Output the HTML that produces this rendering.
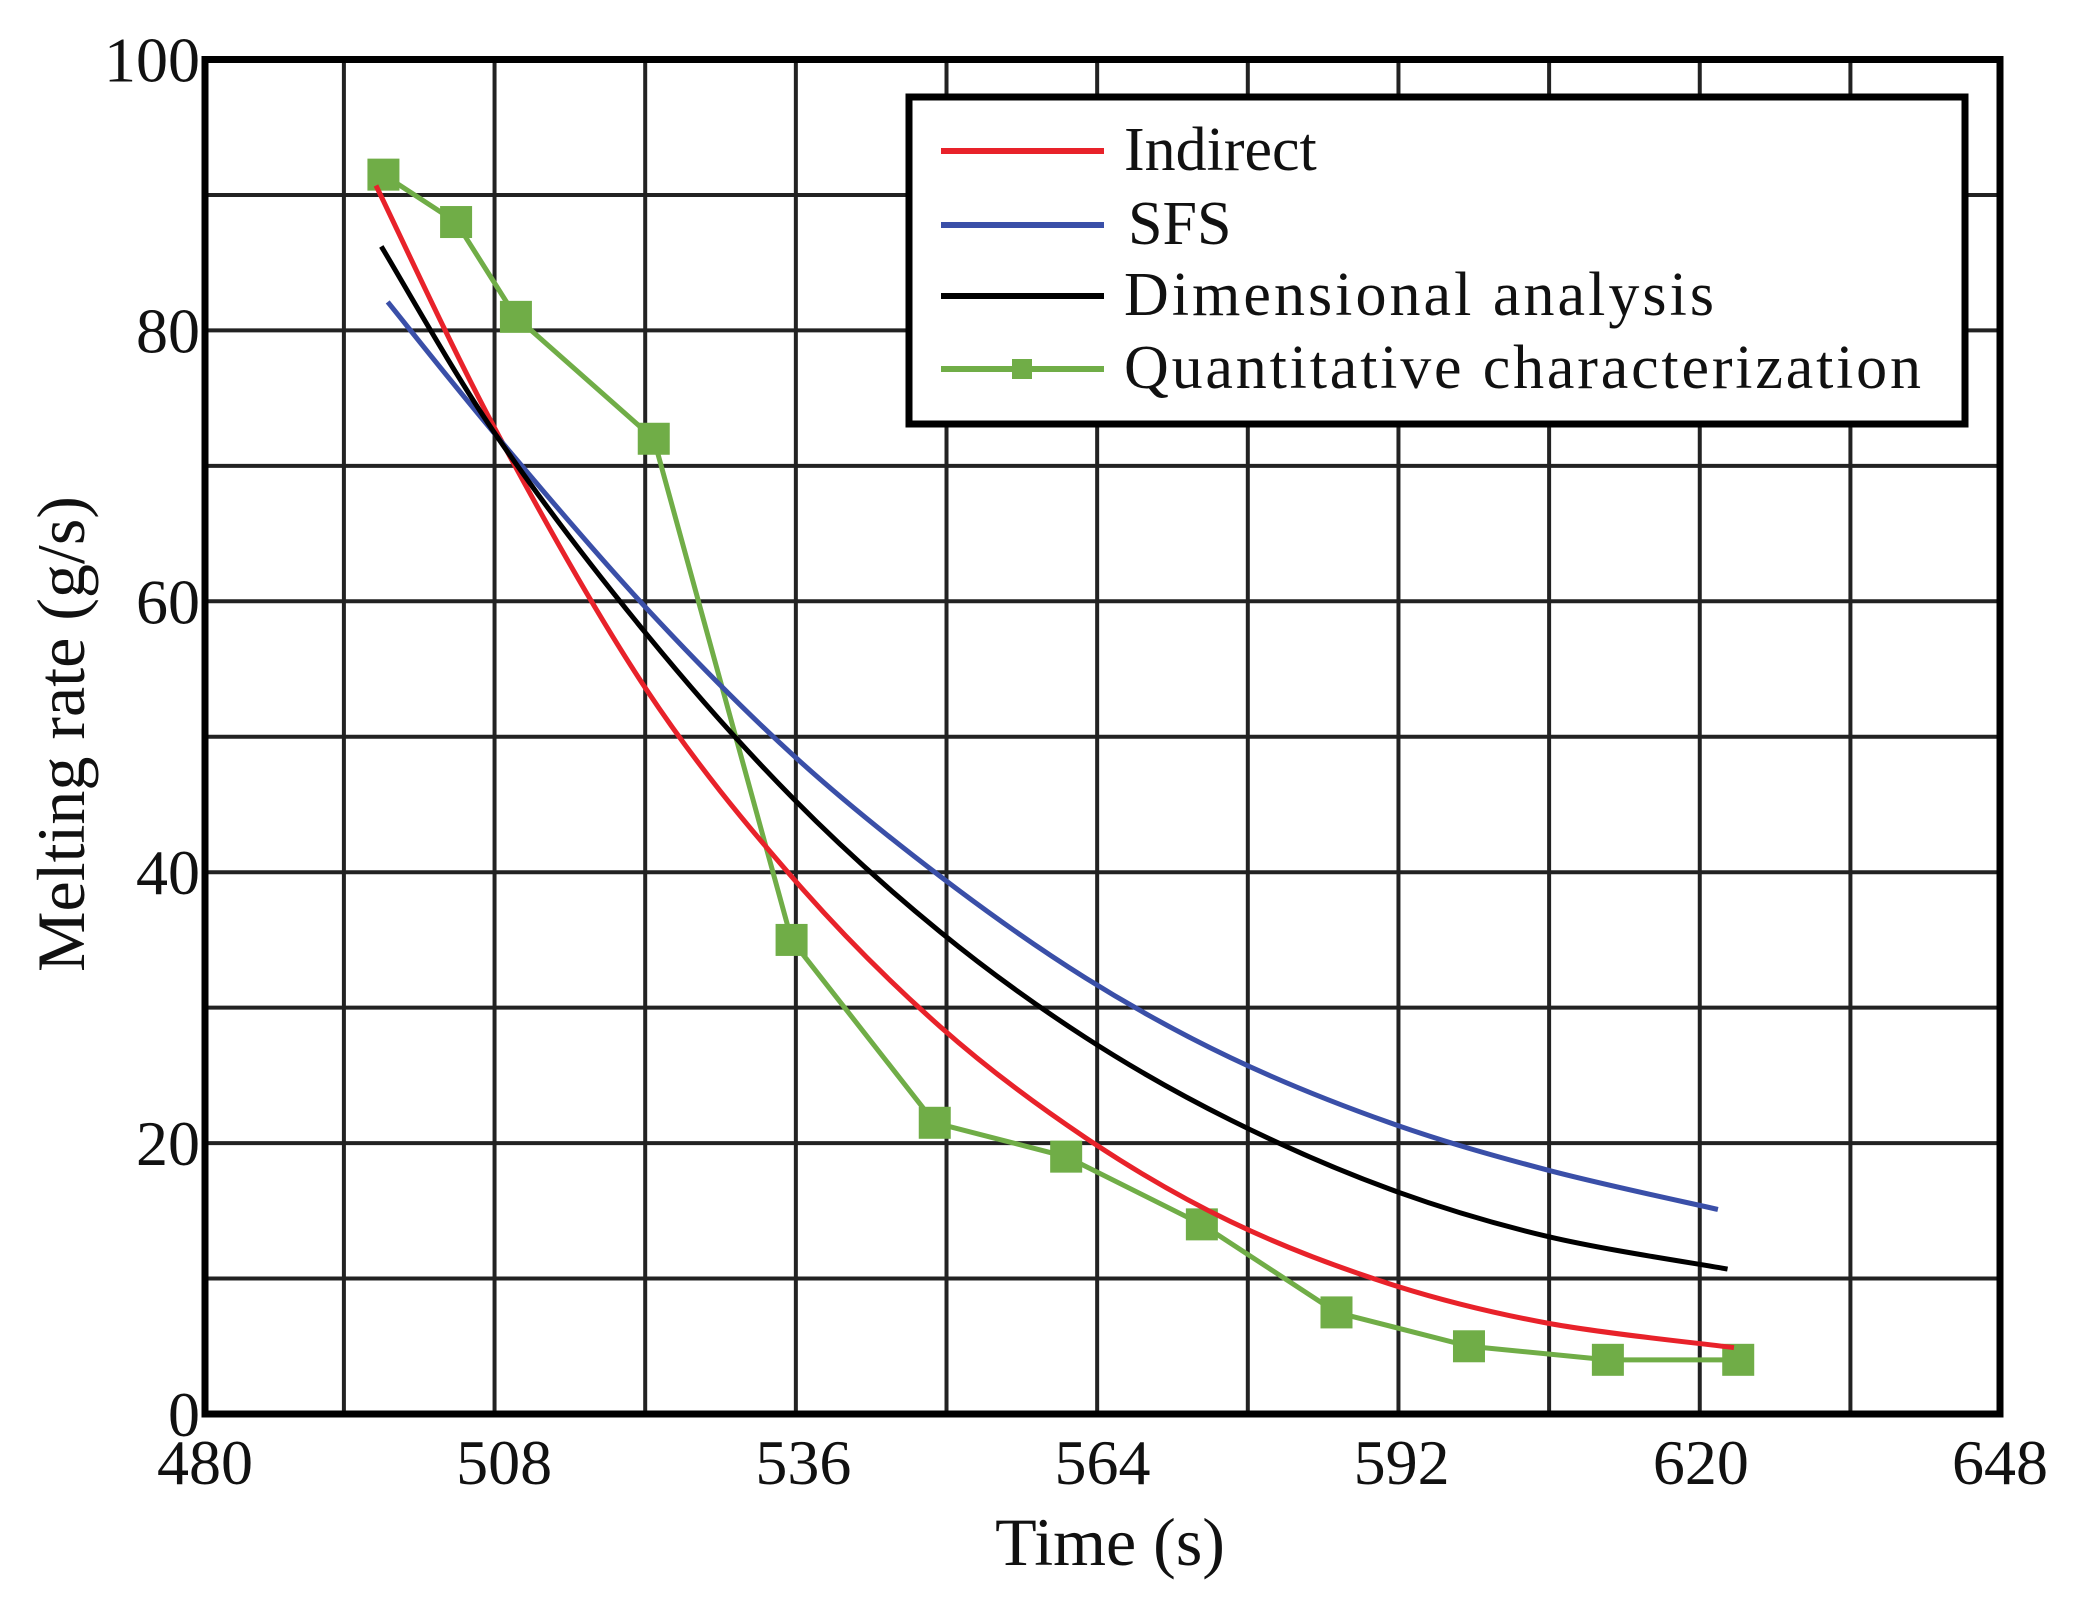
<!DOCTYPE html>
<html><head><meta charset="utf-8"><style>
html,body{margin:0;padding:0;background:#fff;}
svg text{font-family:"Liberation Serif",serif;fill:#111;}
</style></head><body>
<svg id="chart" width="2073" height="1601" viewBox="0 0 2073 1601" xmlns="http://www.w3.org/2000/svg">
<g id="grid"></g>
<g id="series"></g>
<rect x="205" y="59.5" width="1795" height="1354.5" fill="none" stroke="#000" stroke-width="7"/>
<g id="ticks"></g>
<text x="1110" y="1565" font-size="68" text-anchor="middle">Time (s)</text>
<text transform="translate(84,734) rotate(-90)" font-size="68" text-anchor="middle">Melting rate (g/s)</text>
<g>
<rect x="909" y="97" width="1056" height="327" fill="#fff" stroke="#000" stroke-width="7"/>
<g><line x1="941" y1="151" x2="1104" y2="151" stroke="#e8222a" stroke-width="6"/><text x="1124" y="170" font-size="62">Indirect</text></g>
<g><line x1="941" y1="225" x2="1104" y2="225" stroke="#3a4fa8" stroke-width="6"/><text x="1128" y="244" font-size="62">SFS</text></g>
<g><line x1="941" y1="296" x2="1104" y2="296" stroke="#000" stroke-width="6"/><text x="1124" y="315" font-size="62" textLength="590">Dimensional analysis</text></g>
<g><line x1="941" y1="369" x2="1104" y2="369" stroke="#70ad47" stroke-width="6"/><rect x="1012" y="359" width="20" height="20" fill="#70ad47"/><text x="1124" y="388" font-size="62" textLength="797">Quantitative characterization</text></g>
</g>
</svg>
<script>
const xTicks=[480,508,536,564,592,620,648];
const yTicks=[0,20,40,60,80,100];
const redX=[496,507.3,521.3,535.1,548.8,562.4,576,590.9,605.7,623.1];
const redY=[90.7,72.5,53.5,39.5,28.6,20.4,14.2,9.6,6.7,4.9];
const blueX=[497.1,507.3,521.3,535.1,548.8,562.4,576,590.9,605.7,621.6];
const blueY=[82.1,72.2,59.5,48.6,39.7,32.2,26.3,21.5,18,15.1];
const blackX=[496.5,507.3,521.3,535.1,548.8,562.4,576,590.9,605.7,622.5];
const blackY=[86.2,72.2,57.6,45.4,35.6,27.8,21.7,16.6,13.1,10.7];
const greenX=[496.7,503.5,509.1,522,534.9,548.3,560.6,573.3,585.9,598.3,611.3,623.5];
const greenY=[91.5,88,81,72,35,21.5,19,14,7.5,5,4,4];
const NS='http://www.w3.org/2000/svg';
const X0=205,X1=2000,Y0=1414,Y1=59.5;
function sx(v){return X0+(v-480)/(648-480)*(X1-X0);}
function sy(v){return Y0-(v-0)/100*(Y0-Y1);}
function mk(t,a,p){const e=document.createElementNS(NS,t);for(const k in a)e.setAttribute(k,a[k]);p.appendChild(e);return e;}
const grid=document.getElementById('grid');
for(let k=0;k<11;k++){const v=493+14.1*k;const l=mk('line',{x1:sx(v),x2:sx(v),y1:Y1,y2:Y0,stroke:'#222','stroke-width':4},grid);

}
for(let v=10;v<100;v+=10){const l=mk('line',{x1:X0,x2:X1,y1:sy(v),y2:sy(v),stroke:'#222','stroke-width':4},grid);

}
const ticks=document.getElementById('ticks');
xTicks.forEach(v=>{const t=mk('text',{x:sx(v),y:1484,'font-size':64,'text-anchor':'middle'},ticks);t.textContent=v;

});
yTicks.forEach(v=>{const t=mk('text',{x:200,y:sy(v)+22,'font-size':64,'text-anchor':'end'},ticks);t.textContent=v;

});
function smooth(xs,ys){const p=xs.map((x,i)=>[sx(x),sy(ys[i])]);let d='M'+p[0][0]+','+p[0][1];
for(let i=0;i<p.length-1;i++){const a=p[i-1]||p[i],b=p[i],c=p[i+1],e=p[i+2]||c;
d+=' C'+(b[0]+(c[0]-a[0])/6)+','+(b[1]+(c[1]-a[1])/6)+' '+(c[0]-(e[0]-b[0])/6)+','+(c[1]-(e[1]-b[1])/6)+' '+c[0]+','+c[1];}return d;}
const ser=document.getElementById('series');
const g=mk('polyline',{points:greenX.map((x,i)=>sx(x)+','+sy(greenY[i])).join(' '),fill:'none',stroke:'#70ad47','stroke-width':5},ser);


greenX.forEach((x,i)=>{const r=mk('rect',{x:sx(x)-16,y:sy(greenY[i])-16,width:32,height:32,fill:'#70ad47'},ser);

});
const r1=mk('path',{d:smooth(redX,redY),fill:'none',stroke:'#e8222a','stroke-width':5},ser);


const b1=mk('path',{d:smooth(blueX,blueY),fill:'none',stroke:'#3a4fa8','stroke-width':5},ser);


const k1=mk('path',{d:smooth(blackX,blackY),fill:'none',stroke:'#000','stroke-width':5},ser);


</script>
</body></html>
